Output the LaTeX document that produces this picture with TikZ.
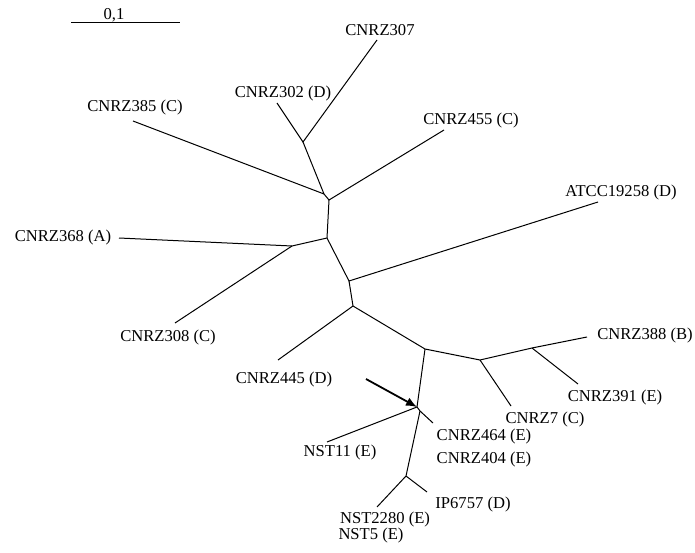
\documentclass[tikz,border=0pt]{standalone}
\usepackage{fontspec}
\setmainfont{Liberation Serif}
\usetikzlibrary{arrows.meta}
\begin{document}
\begin{tikzpicture}[x=1pt,y=-1pt,
  br/.style={line width=1pt},
  lab/.style={inner sep=0pt,font=\fontsize{16.6}{18}\selectfont},
  arr/.style={line width=1.8pt,-{Latex[length=11pt,width=9pt]}}]
\useasboundingbox (0,0) rectangle (695,553);
% scale bar
\coordinate (s1) at (71,23);
\coordinate (s2) at (180,23);
\draw[br] (s1) -- (s2);
\node[lab] (scl) at (114,15) {0,1};
% internal vertices
\coordinate (P) at (303,142);
\coordinate (A) at (324,194);
\coordinate (B) at (329,200);
\coordinate (C) at (327,238);
\coordinate (D) at (292,246);
\coordinate (E) at (349,281);
\coordinate (F) at (353,306);
\coordinate (G) at (425,349);
\coordinate (H) at (480,360);
\coordinate (I) at (532,348);
\coordinate (J) at (417,407);
\coordinate (K) at (420,411);
\coordinate (L) at (406,476);
% leaf ends
\coordinate (e302) at (277,103);
\coordinate (e307) at (377,40);
\coordinate (e385) at (133,121);
\coordinate (e455) at (444,130);
\coordinate (e368) at (119,238);
\coordinate (e308) at (175,323);
\coordinate (eATCC) at (598,202);
\coordinate (e445) at (278,360);
\coordinate (e388) at (587,337);
\coordinate (e391) at (578,384);
\coordinate (e7) at (511,406);
\coordinate (e11) at (327,442);
\coordinate (e464) at (433,423);
\coordinate (e2280) at (377,507);
\coordinate (e6757) at (427,492);
% branches
\draw[br] (e302) -- (P) -- (e307);
\draw[br] (P) -- (A) -- (e385);
\draw[br] (A) -- (B) -- (e455);
\draw[br] (B) -- (C) -- (D) -- (e368);
\draw[br] (D) -- (e308);
\draw[br] (C) -- (E) -- (eATCC);
\draw[br] (E) -- (F) -- (e445);
\draw[br] (F) -- (G) -- (H) -- (I) -- (e388);
\draw[br] (I) -- (e391);
\draw[br] (H) -- (e7);
\draw[br] (G) -- (J) -- (e11);
\draw[br] (J) -- (K) -- (e464);
\draw[br] (K) -- (L) -- (e2280);
\draw[br] (L) -- (e6757);
% arrow
\coordinate (a0) at (366,379);
\draw[arr] (a0) -- (J);
% labels
\node[lab] (l307) at (380,30) {CNRZ307};
\node[lab] (l302) at (283,94) {CNRZ302 (D)};
\node[lab] (l385) at (135,108) {CNRZ385 (C)};
\node[lab] (l455) at (471,121) {CNRZ455 (C)};
\node[lab] (lATCC) at (621,193) {ATCC19258 (D)};
\node[lab] (l368) at (63,238) {CNRZ368 (A)};
\node[lab] (l308) at (168,338) {CNRZ308 (C)};
\node[lab] (l445) at (284,380) {CNRZ445 (D)};
\node[lab] (l388) at (645,336) {CNRZ388 (B)};
\node[lab] (l391) at (615,398) {CNRZ391 (E)};
\node[lab] (l7) at (545,420) {CNRZ7 (C)};
\node[lab] (l464) at (484,437) {CNRZ464 (E)};
\node[lab] (l404) at (484,460) {CNRZ404 (E)};
\node[lab] (l11) at (340,453) {NST11 (E)};
\node[lab] (l6757) at (473,505) {IP6757 (D)};
\node[lab] (l2280) at (385,520) {NST2280 (E)};
\node[lab] (l5) at (371,536) {NST5 (E)};
\end{tikzpicture}
\end{document}
